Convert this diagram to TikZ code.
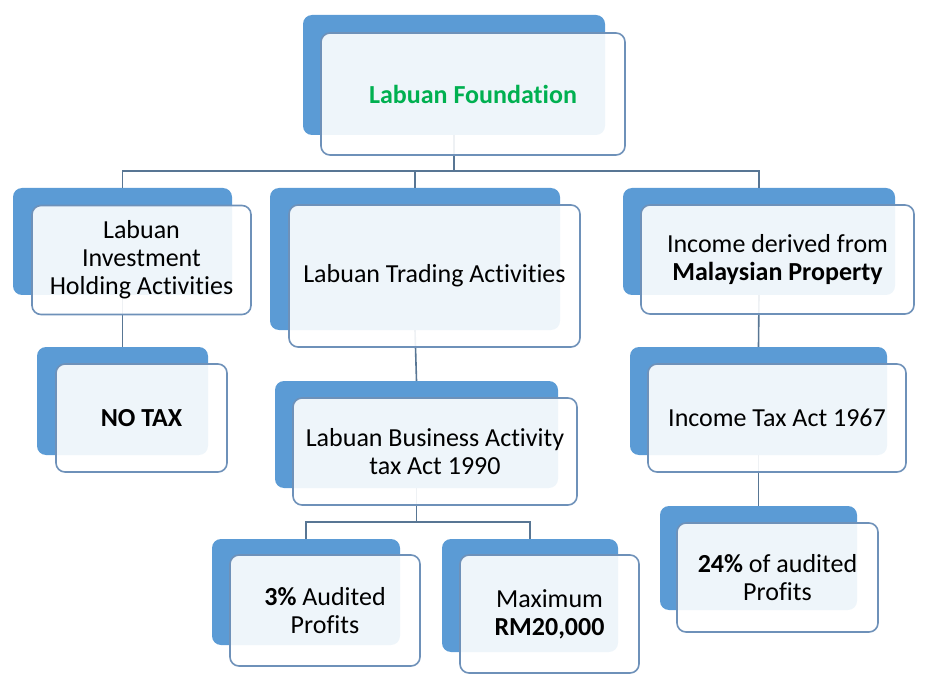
\documentclass[tikz,border=0pt]{standalone}
\usepackage{fontspec}
\setmainfont[Ligatures=NoCommon]{Carlito}
\usetikzlibrary{positioning, calc}
\definecolor{boxblue}{RGB}{91,155,213}
\definecolor{edgeblue}{RGB}{110,145,185}
\definecolor{linkgray}{RGB}{88,118,148}
\definecolor{labgreen}{RGB}{0,176,80}

\tikzset{
  backbox/.style={fill=boxblue, rounded corners=9pt, inner sep=0pt},
  frontbox/.style={fill=white, fill opacity=0.9, text opacity=1, draw=edgeblue,
    line width=1.6pt, rounded corners=9pt, inner sep=0pt, align=center,
    font=\fontsize{26}{28}\selectfont},
  link/.style={draw=linkgray, line width=1.6pt}
}

\begin{document}
\begin{tikzpicture}[x=1pt,y=-1pt]
    \useasboundingbox (0,0) rectangle (927,687);

    % back boxes
    \node[backbox, minimum width=302pt, minimum height=120pt] (rootb) at (454,75) {};
    \node[backbox, minimum width=219pt, minimum height=107pt] (invb) at (122.5,241.5) {};
    \node[backbox, minimum width=290pt, minimum height=142pt] (tradeb) at (415,259) {};
    \node[backbox, minimum width=272pt, minimum height=107pt] (propb) at (759,241.5) {};
    \node[backbox, minimum width=171pt, minimum height=108pt] (notaxb) at (122.5,401) {};
    \node[backbox, minimum width=283pt, minimum height=107pt] (lbatb) at (416.5,434.5) {};
    \node[backbox, minimum width=257pt, minimum height=108pt] (itab) at (758.5,401) {};
    \node[backbox, minimum width=188pt, minimum height=106pt] (pctthreeb) at (306,592) {};
    \node[backbox, minimum width=176pt, minimum height=113pt] (maxrmb) at (530,595.5) {};
    \node[backbox, minimum width=197pt, minimum height=104pt] (pcttwfb) at (758.5,558) {};

    % connectors
    \draw[link] (rootb.south) -- ++(0,36) coordinate (busa);
    \draw[link] (invb.north) |- (busa) -| (propb.north);
    \draw[link] (busa -| tradeb.north) -- (tradeb.north);
    \draw[link] (invb.south) -- (notaxb.north);
    \draw[link] (tradeb.south) -- (lbatb.north);
    \draw[link] (propb.south) -- (itab.north);
    \draw[link] (lbatb.south) -- ++(0,34) coordinate (busb);
    \draw[link] (pctthreeb.north) |- (busb) -| (maxrmb.north);
    \draw[link] (itab.south) -- (pcttwfb.north);

    % front boxes
    \node[frontbox, minimum width=304pt, minimum height=122pt, text=labgreen] (root) at (473,94) {\textbf{Labuan Foundation}};
    \node[frontbox, minimum width=219pt, minimum height=109pt] (inv) at (141.5,260) {Labuan\\Investment\\Holding Activities};
    \node[frontbox, minimum width=291pt, minimum height=142pt] (trade) at (434.5,276) {Labuan Trading Activities};
    \node[frontbox, minimum width=273pt, minimum height=109pt] (prop) at (777.5,259.5) {Income derived from\\\textbf{Malaysian Property}};
    \node[frontbox, minimum width=171pt, minimum height=108pt] (notax) at (141.5,418) {\textbf{NO TAX}};
    \node[frontbox, minimum width=284pt, minimum height=107pt] (lbat) at (435,451.5) {Labuan Business Activity\\tax Act 1990};
    \node[frontbox, minimum width=258pt, minimum height=108pt] (ita) at (777,418) {Income Tax Act 1967};
    \node[frontbox, minimum width=190pt, minimum height=111pt] (pctthree) at (325,610.5) {\textbf{3\%} Audited\\Profits};
    \node[frontbox, minimum width=179pt, minimum height=118pt] (maxrm) at (549.5,614) {Maximum\\\textbf{RM20,000}};
    \node[frontbox, minimum width=201pt, minimum height=109pt] (pcttwf) at (777.5,577.5) {\textbf{24\%} of audited\\Profits};
\end{tikzpicture}
\end{document}
